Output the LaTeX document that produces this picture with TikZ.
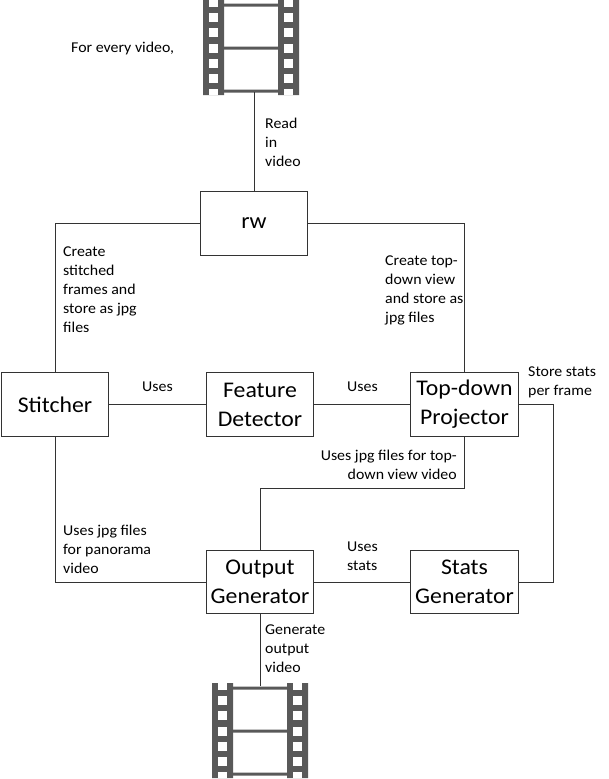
\documentclass[tikz,border=0pt]{standalone}
\usepackage{fontspec}
\setmainfont[FakeStretch=1.06]{Carlito}
\definecolor{filmgray}{HTML}{595959}
\tikzset{
	block/.style={draw=black!80, fill=white, line width=1pt, minimum width=107.5pt, minimum height=63.5pt, align=center, inner sep=0pt, font=\fontsize{22.4}{29}\selectfont},
	lbl/.style={anchor=west, align=left, inner sep=0pt, font=\fontsize{15}{19}\selectfont},
	link/.style={draw=black!80, line width=1pt},
	film/.pic={
		\fill[filmgray] (0,0) rectangle (21,95) (75,0) rectangle (96,95);
		\fill[filmgray] (21,3.5) rectangle (75,6.5) (21,46.5) rectangle (75,49.5) (21,89.5) rectangle (75,92.5);
		\foreach \s in {6,81} {
			\fill[white] (\s,0) rectangle ++(9,6.5);
			\fill[white] (\s,89) rectangle ++(9,6);
			\foreach \y in {13,28,43.5,59,74}
			\fill[white] (\s,\y) rectangle ++(9,9);
		}
	}
}
\begin{document}
\begin{tikzpicture}[x=1pt, y=-1pt]
		\useasboundingbox (0,0) rectangle (609,779);
		% film strips
		\begin{scope}
		\clip (0,0) rectangle (609,779);
		\pic at (203,0) {film};
		\pic at (212,683) {film};
		\end{scope}
		\coordinate (filmin) at (254,92);
		\coordinate (filmout) at (260,686);
		% boxes
		\node[block] (rw) at (254,223.5) {rw};
		\node[block] (stitcher) at (55,404.5) {Stitcher};
		\node[block] (feature) at (260,404.5) {Feature\\Detector};
		\node[block] (projector) at (464.5,404.5) {Top-down\\Projector};
		\node[block] (output) at (260,582) {Output\\Generator};
		\node[block] (stats) at (464.5,582) {Stats\\Generator};
		% connectors
		\draw[link] (filmin)--(rw);
		\draw[link] (rw.west)-|(stitcher.north);
		\draw[link] (rw.east)-|(projector.north);
		\draw[link] (stitcher)--(feature);
		\draw[link] (feature)--(projector);
		\draw[link] (stitcher.south)|-(output.west);
		\draw[link] (projector.south)|-(260,488)--(output.north);
		\draw[link] (output)--(stats);
		\draw[link] (projector.east)-|(553,582)--(stats.east);
		\draw[link] (output.south)--(filmout);
		% labels
		\node[lbl] (every) at (71,48.5) {For every video,};
		\node[lbl] (read) at (265,142.5) {Read\\in\\video};
		\node[lbl] (stitched) at (63,290) {Create\\stitched\\frames and\\store as jpg\\files};
		\node[lbl] (topview) at (385,290) {Create top-\\down view\\and store as\\jpg files};
		\node[lbl] (uses1) at (142,386.5) {Uses};
		\node[lbl] (uses2) at (347,386.5) {Uses};
		\node[lbl] (store) at (528,382) {Store stats\\per frame};
		\node[lbl, align=right, anchor=east] (jpgtop) at (457,465) {Uses jpg files for top-\\down view video};
		\node[lbl] (jpgpan) at (63,549.5) {Uses jpg files\\for panorama\\video};
		\node[lbl] (uses3) at (347,556) {Uses\\stats};
		\node[lbl] (generate) at (265,648.5) {Generate\\output\\video};
		\end{tikzpicture}
\end{document}
